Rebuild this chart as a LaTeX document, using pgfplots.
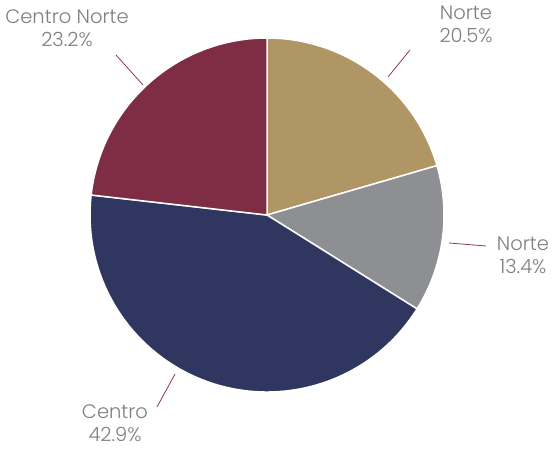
\documentclass[border=0pt]{standalone}
\usepackage{fontspec}
\setmainfont{Poppins}[UprightFont={* Light}]
\usepackage{pgfplots}
\pgfplotsset{compat=1.18}
\definecolor{ctan}{HTML}{B09665}
\definecolor{cgray}{HTML}{8E8F93}
\definecolor{cnavy}{HTML}{2F3760}
\definecolor{cmaroon}{HTML}{7E2D44}
\definecolor{cline}{HTML}{8B3A55}
\definecolor{ctext}{HTML}{7F7F7F}
% values (percent)
\def\va{20.5}\def\vb{13.4}\def\vc{42.9}\def\vd{23.2}
\pgfmathsetmacro\aa{90}
\pgfmathsetmacro\ab{\aa-3.6*\va}
\pgfmathsetmacro\ac{\ab-3.6*\vb}
\pgfmathsetmacro\ad{\ac-3.6*\vc}
\pgfmathsetmacro\ae{\ad-3.6*\vd}
\def\R{177}
\begin{document}
\begin{tikzpicture}
\begin{axis}[hide axis, x=1bp, y=1bp, xmin=-267, xmax=285, ymin=-234, ymax=215,
  clip=false, scale only axis]
\path (axis cs:-267,-234) (axis cs:285,215);
\fill[ctan, draw=white, line width=1.5bp] (axis cs:0,0) -- (axis cs:{\R*cos(\aa)},{\R*sin(\aa)}) arc[start angle=\aa, end angle=\ab, radius=\R bp] -- cycle;
\fill[cgray, draw=white, line width=1.5bp] (axis cs:0,0) -- (axis cs:{\R*cos(\ab)},{\R*sin(\ab)}) arc[start angle=\ab, end angle=\ac, radius=\R bp] -- cycle;
\fill[cnavy, draw=white, line width=1.5bp] (axis cs:0,0) -- (axis cs:{\R*cos(\ac)},{\R*sin(\ac)}) arc[start angle=\ac, end angle=\ad, radius=\R bp] -- cycle;
\fill[cmaroon, draw=white, line width=1.5bp] (axis cs:0,0) -- (axis cs:{\R*cos(\ad)},{\R*sin(\ad)}) arc[start angle=\ad, end angle=\ae, radius=\R bp] -- cycle;
\draw[cline, line width=0.8bp] (axis cs:121,138) -- (axis cs:143,165);
\draw[cline, line width=0.8bp] (axis cs:182,-28) -- (axis cs:219,-31);
\draw[cline, line width=0.8bp] (axis cs:-92,-159) -- (axis cs:-110,-192);
\draw[cline, line width=0.8bp] (axis cs:-124,130) -- (axis cs:-151,160);
\tikzset{lbl/.style={text=ctext, align=center, inner sep=0pt, font=\fontsize{19.5bp}{23bp}\selectfont}}
\node[lbl] at (axis cs:199,191) {Norte\\20.5\%};
\node[lbl] at (axis cs:256,-40) {Norte\\13.4\%};
\node[lbl] at (axis cs:-152,-208.5) {Centro\\42.9\%};
\node[lbl] at (axis cs:-200,187) {Centro Norte\\23.2\%};
\end{axis}
\end{tikzpicture}
\end{document}
